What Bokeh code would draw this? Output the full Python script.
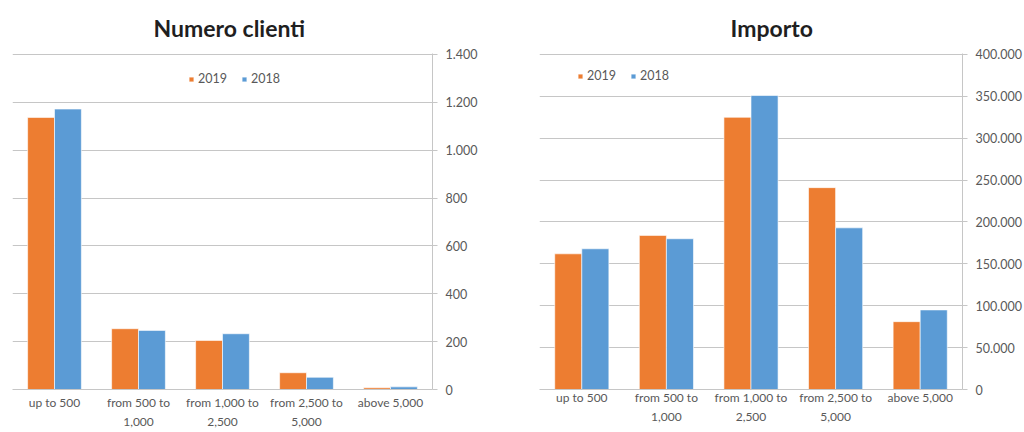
from bokeh.plotting import figure
from bokeh.layouts import row
from bokeh.models import ColumnDataSource, Range1d, FixedTicker, Legend, LegendItem
from bokeh.transform import dodge
from bokeh.embed import file_html
from bokeh.resources import INLINE

categories = ["up to 500", "from 500 to\n1,000", "from 1,000 to\n2,500",
              "from 2,500 to\n5,000", "above 5,000"]
clienti_2019 = [1137, 254, 205, 70, 7]
clienti_2018 = [1172, 247, 233, 51, 11]
importo_2019 = [162000, 184000, 325000, 241000, 81000]
importo_2018 = [168000, 180000, 351000, 193000, 95000]
clienti_ticks = [0, 200, 400, 600, 800, 1000, 1200, 1400]
importo_ticks = [0, 50000, 100000, 150000, 200000, 250000, 300000, 350000, 400000]

ORANGE = "#ED7D31"
BLUE = "#5B9BD5"
GRID = "#c6c6c6"
TEXT = "#595959"
FONT = "Lato"
H = 432


def it_number(v):
    return f"{v:,}".replace(",", ".")


def bar_chart(title, v2019, v2018, ticks, left, right, bottom, title_x,
              legend_x, x_standoff):
    frame_h = H - 53 - bottom
    # one spare pixel above the top tick so its grid line is not clipped
    y_end = ticks[-1] * (1 + 1.0 / (frame_h - 1))
    src = ColumnDataSource(dict(cat=categories, y2019=v2019, y2018=v2018))
    p = figure(x_range=categories, y_range=Range1d(0, y_end),
               width=512, height=H, y_axis_location="right",
               output_backend="svg", toolbar_location=None,
               min_border_left=left, min_border_right=right,
               min_border_top=53, min_border_bottom=bottom)
    p.outline_line_color = None
    p.background_fill_color = "white"
    p.border_fill_color = "white"

    r19 = p.vbar(x=dodge("cat", -0.16, range=p.x_range), top="y2019", width=0.32,
                 source=src, fill_color=ORANGE, line_color="white", line_width=0.6)
    r18 = p.vbar(x=dodge("cat", 0.16, range=p.x_range), top="y2018", width=0.32,
                 source=src, fill_color=BLUE, line_color="white", line_width=0.6)

    p.title.text = title
    p.title.align = "left"
    p.title.offset = title_x
    p.title.text_font = FONT
    p.title.text_font_style = "bold"
    p.title.text_font_size = "23px"
    p.title.text_color = "#1f1f1f"
    p.title.standoff = 23

    p.xgrid.grid_line_color = None
    p.ygrid.grid_line_color = GRID
    p.ygrid.grid_line_width = 1

    ya = p.yaxis[0]
    ya.ticker = FixedTicker(ticks=ticks)
    ya.major_label_overrides = {t: it_number(t) for t in ticks}
    ya.axis_line_color = GRID
    ya.major_tick_line_color = GRID
    ya.major_tick_out = 5
    ya.major_tick_in = 0
    ya.minor_tick_line_color = None
    ya.major_label_text_font = FONT
    ya.major_label_text_font_size = "12.5px"
    ya.major_label_text_color = TEXT
    ya.major_label_standoff = 8

    xa = p.xaxis[0]
    xa.axis_line_color = GRID
    xa.major_tick_line_color = None
    xa.major_tick_out = 0
    xa.major_tick_in = 0
    xa.minor_tick_line_color = None
    xa.major_label_text_font = FONT
    xa.major_label_text_font_size = "12px"
    xa.major_label_text_color = TEXT
    xa.major_label_text_line_height = 1.32
    xa.major_label_standoff = x_standoff

    legend = Legend(items=[LegendItem(label="2019", renderers=[r19]),
                           LegendItem(label="2018", renderers=[r18])],
                    orientation="horizontal",
                    location=(legend_x, frame_h - 34))
    legend.glyph_width = 6
    legend.glyph_height = 6
    legend.label_standoff = 4
    legend.spacing = 14
    legend.padding = 0
    legend.margin = 0
    legend.label_height = 14
    legend.label_text_font = FONT
    legend.label_text_font_size = "12.5px"
    legend.label_text_color = TEXT
    legend.border_line_color = None
    legend.background_fill_alpha = 0
    p.add_layout(legend, "center")
    return p


p1 = bar_chart("Numero clienti", clienti_2019, clienti_2018, clienti_ticks,
               left=12, right=80, bottom=42, title_x=141, legend_x=176,
               x_standoff=5)
p2 = bar_chart("Importo", importo_2019, importo_2018, importo_ticks,
               left=27, right=59, bottom=39, title_x=191, legend_x=38,
               x_standoff=0)

layout = row(p1, p2)
open("out.html", "w").write(file_html(layout, INLINE))
